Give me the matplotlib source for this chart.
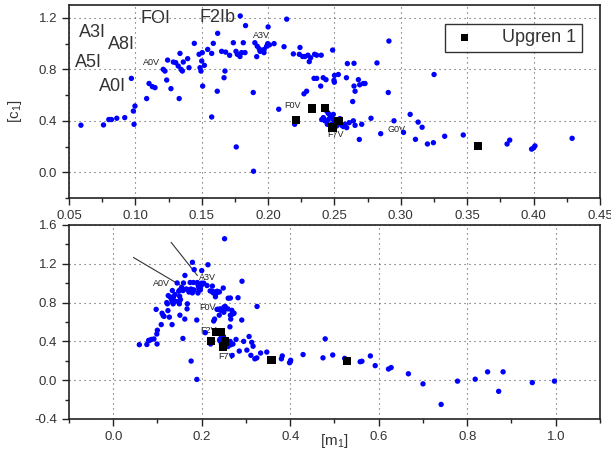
import matplotlib
matplotlib.use("Agg")
import matplotlib.pyplot as plt
from matplotlib.ticker import MultipleLocator, FormatStrFormatter
import numpy as np

plt.rcParams['font.family'] = ['Liberation Sans', 'DejaVu Sans']
plt.rcParams['mathtext.default'] = 'regular'

# field stars: [m1], [c1]
m1 = [0.059, 0.076, 0.080, 0.082, 0.086, 0.092, 0.097, 0.099, 0.0985, 0.0997,
      0.1085, 0.1103, 0.1128, 0.1148, 0.121, 0.1223, 0.1236, 0.1243, 0.1268, 0.1286,
      0.1304, 0.133, 0.1336, 0.1323, 0.1344, 0.1354, 0.1361, 0.1394, 0.1404, 0.1444,
      0.148, 0.1504, 0.150, 0.1487, 0.1494, 0.1507, 0.152, 0.1545, 0.1575, 0.1587,
      0.1575, 0.162, 0.1617, 0.165, 0.1668, 0.1675, 0.168, 0.171, 0.1738, 0.176,
      0.1758, 0.1768, 0.1788, 0.179, 0.180, 0.1813, 0.1826, 0.183, 0.1888, 0.189,
      0.190, 0.1914, 0.1918, 0.1933, 0.1939, 0.1969, 0.197, 0.1989, 0.1997, 0.200,
      0.201, 0.2045, 0.208, 0.212, 0.214, 0.219, 0.220, 0.2235, 0.224, 0.226,
      0.2278, 0.227, 0.229, 0.230, 0.231, 0.232, 0.235, 0.2366, 0.240, 0.2346,
      0.2366, 0.2415, 0.2436, 0.2396, 0.2486, 0.250, 0.2499, 0.2496, 0.2529, 0.259,
      0.2597, 0.2647, 0.268, 0.269, 0.2717, 0.273, 0.2647, 0.2655, 0.2637, 0.282,
      0.2905, 0.291, 0.325,
      0.2441, 0.2453, 0.2466, 0.2479, 0.2491, 0.2416, 0.2404, 0.2428, 0.2453, 0.2491,
      0.2504, 0.2516, 0.2529, 0.2541, 0.2479, 0.2446, 0.2516, 0.2554, 0.2567, 0.2579,
      0.2592, 0.2611, 0.2642, 0.2655, 0.2705, 0.2775, 0.2687, 0.2848, 0.2948, 0.302,
      0.307, 0.313, 0.316, 0.311, 0.320, 0.3245, 0.333, 0.347, 0.380, 0.382,
      0.3985, 0.400, 0.401, 0.429,
      0.2516, 0.479, 0.474, 0.496, 0.523, 0.558, 0.562, 0.581, 0.592, 0.622,
      0.628, 0.667, 0.700, 0.741, 0.778, 0.818, 0.846, 0.871, 0.881, 0.947, 0.997]
c1 = [0.366, 0.368, 0.410, 0.410, 0.420, 0.425, 0.730, 0.373, 0.476, 0.515,
      0.573, 0.690, 0.666, 0.658, 0.800, 0.787, 0.717, 0.872, 0.650, 0.857,
      0.852, 0.573, 0.924, 0.826, 0.800, 0.787, 0.857, 0.883, 0.813, 1.002,
      0.917, 0.930, 0.865, 0.813, 0.787, 0.670, 0.831, 0.955, 0.924, 1.002,
      0.430, 1.080, 0.630, 0.940, 0.735, 0.787, 0.934, 0.909, 1.007, 0.197,
      0.940, 0.917, 0.900, 1.215, 0.930, 1.007, 0.930, 1.140, 0.620, 0.008,
      1.007, 0.899, 0.980, 0.960, 0.940, 0.930, 0.955, 0.980, 1.000, 1.130,
      0.990, 1.000, 0.490, 0.976, 1.190, 0.920, 0.373, 0.917, 0.970, 0.900,
      0.900, 0.610, 0.630, 0.910, 0.860, 0.890, 0.917, 0.910, 0.910, 0.730,
      0.730, 0.735, 0.720, 0.670, 0.950, 0.753, 0.700, 0.715, 0.760, 0.735,
      0.845, 0.847, 0.720, 0.680, 0.690, 0.690, 0.670, 0.630, 0.550, 0.850,
      0.620, 1.020, 0.760,
      0.476, 0.458, 0.443, 0.432, 0.450, 0.425, 0.410, 0.400, 0.410, 0.410,
      0.390, 0.400, 0.380, 0.417, 0.373, 0.373, 0.360, 0.365, 0.355, 0.373,
      0.347, 0.386, 0.400, 0.365, 0.373, 0.420, 0.255, 0.300, 0.400, 0.310,
      0.450, 0.390, 0.350, 0.256, 0.220, 0.230, 0.280, 0.290, 0.220, 0.250,
      0.180, 0.190, 0.205, 0.264,
      1.458, 0.426, 0.230, 0.260, 0.225, 0.190, 0.195, 0.250, 0.150, 0.115,
      0.130, 0.066, -0.038, -0.250, -0.010, 0.010, 0.086, -0.115, 0.086, -0.025, -0.010]

# Upgren 1 members
up_m1 = [0.221, 0.233, 0.243, 0.2486, 0.253, 0.358, 0.528]
up_c1 = [0.405, 0.497, 0.500, 0.347, 0.400, 0.205, 0.200]

big_labels = ['A3I', 'A8I', 'A5I', 'A0I', 'FOI', 'F2Ib']
big_x = [0.068, 0.0897, 0.065, 0.0827, 0.1148, 0.162]
big_y = [1.085, 0.994, 0.852, 0.666, 1.194, 1.20]

top_labels = ['A0V', 'A3V', 'F0V', 'F7V', 'G0V']
top_lx = [0.112, 0.195, 0.218, 0.251, 0.297]
top_ly = [0.85, 1.064, 0.52, 0.295, 0.33]

bot_labels = ['A0V', 'A3V', 'F0V', 'F2V', 'F7V']
bot_lx = [0.11, 0.2135, 0.212, 0.215, 0.257]
bot_ly = [0.997, 1.063, 0.75, 0.51, 0.24]

blue = '#0000ff'
grid_kw = dict(color='#555555', linestyle=(0, (1, 3.5)), linewidth=0.8)

fig = plt.figure(figsize=(6.11, 4.57), dpi=100)
ax1 = fig.add_axes([0.1129, 0.5667, 0.8691, 0.4223])
ax2 = fig.add_axes([0.1129, 0.0832, 0.8691, 0.4245])

for ax in (ax1, ax2):
    ax.scatter(m1, c1, s=15, color=blue, edgecolors='none', zorder=3)
    ax.scatter(up_m1, up_c1, s=36, marker='s', color='black', edgecolors='none', zorder=4,
               label='Upgren 1')
    ax.grid(True, which='major', **grid_kw)
    ax.set_axisbelow(True)
    ax.tick_params(which='both', direction='out', width=1, labelsize=9.5, colors='#222222',
                   labelcolor='#333333')
    ax.tick_params(which='major', length=5)
    ax.tick_params(which='minor', length=3)
    for sp in ax.spines.values():
        sp.set_linewidth(1.2)
        sp.set_color('#222222')

# top panel
ax1.set_xlim(0.05, 0.45)
ax1.set_ylim(-0.2, 1.3)
ax1.xaxis.set_major_locator(MultipleLocator(0.05))
ax1.xaxis.set_minor_locator(MultipleLocator(0.025))
ax1.yaxis.set_major_locator(MultipleLocator(0.4))
ax1.yaxis.set_minor_locator(MultipleLocator(0.2))
ax1.xaxis.set_major_formatter(FormatStrFormatter('%.2f'))
ax1.yaxis.set_major_formatter(FormatStrFormatter('%.1f'))
ax1.set_ylabel('[c$_1$]', fontsize=11, color='#333333')
ax1.yaxis.set_label_coords(-0.085, 0.45)

for t, x, y in zip(big_labels, big_x, big_y):
    ax1.text(x, y, t, fontsize=13, ha='center', va='center', color='#333333', zorder=2)
for t, x, y in zip(top_labels, top_lx, top_ly):
    ax1.text(x, y, t, fontsize=6.5, ha='center', va='center', color='#222222', zorder=2)

leg = ax1.legend(loc='upper right', bbox_to_anchor=(0.966, 0.902), borderaxespad=0,
                 fontsize=13, frameon=True, fancybox=False, handlelength=1.6,
                 handletextpad=1.3, borderpad=0.3, markerscale=0.9)
leg.get_frame().set_edgecolor('black')
leg.get_frame().set_linewidth(1.0)
for txt in leg.get_texts():
    txt.set_color('#333333')

# bottom panel
ax2.set_xlim(-0.1, 1.1)
ax2.set_ylim(-0.4, 1.6)
ax2.xaxis.set_major_locator(MultipleLocator(0.2))
ax2.xaxis.set_minor_locator(MultipleLocator(0.1))
ax2.yaxis.set_major_locator(MultipleLocator(0.4))
ax2.yaxis.set_minor_locator(MultipleLocator(0.2))
ax2.xaxis.set_major_formatter(FormatStrFormatter('%.1f'))
ax2.yaxis.set_major_formatter(FormatStrFormatter('%.1f'))
ax2.set_xlabel('[m$_1$]', fontsize=11, color='#333333')
ax2.xaxis.set_label_coords(0.5, -0.065)

ax2.plot([0.046, 0.181], [1.264, 0.90], color='#333333', linewidth=0.8, zorder=2)
ax2.plot([0.131, 0.19], [1.42, 1.08], color='#333333', linewidth=0.8, zorder=2)
for t, x, y in zip(bot_labels, bot_lx, bot_ly):
    ax2.text(x, y, t, fontsize=6.5, ha='center', va='center', color='#222222', zorder=2)

fig.savefig('out.png', dpi=100)
